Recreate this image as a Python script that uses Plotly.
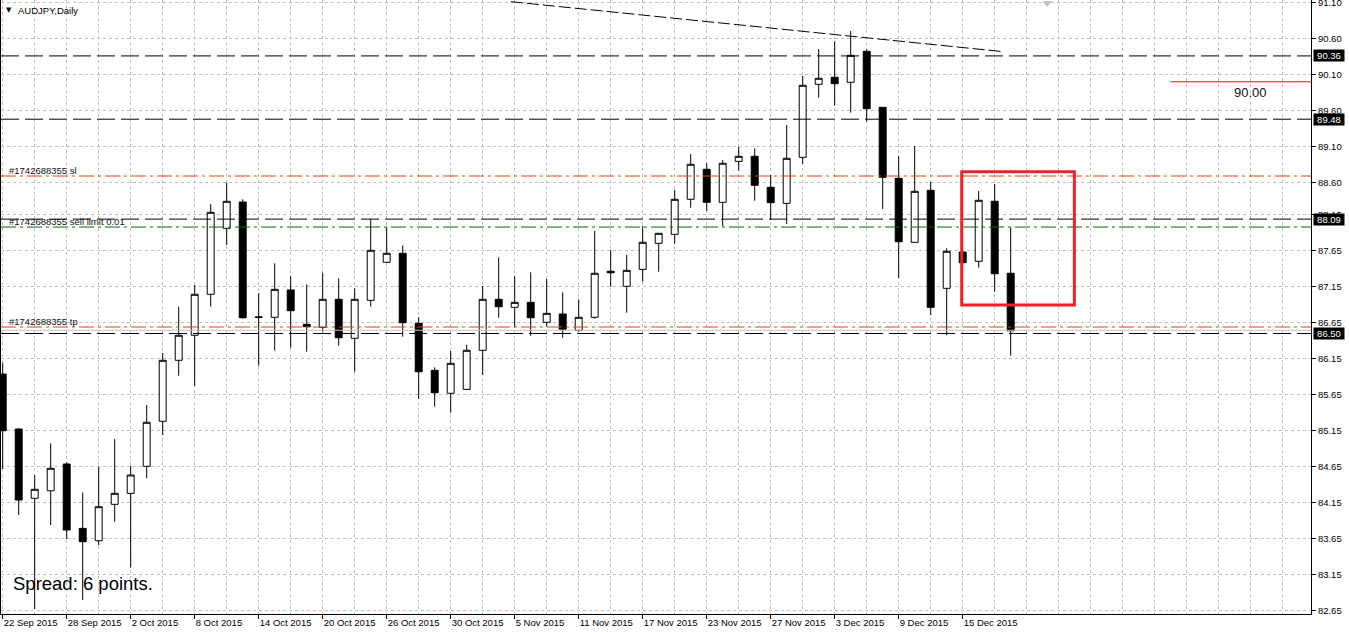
import plotly.graph_objects as go
import pandas as pd

# ---------------- data ----------------
symbol_title = "AUDJPY,Daily"
spread_text = "Spread: 6 points."
dates = pd.bdate_range("2015-09-22", "2015-12-18")  # 64 trading days

opens = [85.936, 85.171, 84.208, 84.313, 84.685, 83.790, 83.618, 84.124, 84.277, 84.653,
         85.279, 86.127, 86.475, 87.045, 87.962, 88.328, 86.722, 86.725, 87.105, 86.627,
         86.586, 86.975, 86.433, 86.961, 87.490, 87.615, 86.641, 85.988, 85.668, 85.723,
         86.266, 86.975, 86.864, 86.933, 86.655, 86.771, 86.544, 86.725, 87.365, 87.156,
         87.392, 87.754, 87.879, 88.366, 88.783, 88.324, 88.894, 88.964, 88.533, 88.310,
         88.950, 89.965, 90.063, 89.993, 90.424, 89.645, 88.658, 87.768, 88.491, 87.128,
         87.633, 87.504, 88.338, 87.337]
highs = [86.093, 85.181, 84.532, 84.973, 84.708, 84.286, 84.647, 85.032, 84.661, 85.505,
         86.228, 86.872, 87.174, 88.300, 88.597, 88.366, 87.059, 87.476, 87.299, 87.184,
         87.345, 87.267, 87.128, 88.088, 87.977, 87.726, 86.725, 86.029, 86.256, 86.340,
         87.160, 87.559, 87.299, 87.351, 87.257, 87.073, 86.975, 87.925, 87.661, 87.591,
         87.995, 87.893, 88.495, 88.996, 88.867, 88.912, 89.097, 89.075, 88.704, 89.399,
         90.081, 90.456, 90.563, 90.706, 90.452, 89.645, 88.968, 89.107, 88.606, 87.684,
         87.633, 88.481, 88.579, 87.976]
lows = [84.615, 83.975, 82.668, 83.836, 83.642, 82.793, 83.558, 83.882, 83.243, 84.486,
        85.088, 85.913, 85.769, 86.872, 87.730, 86.708, 86.052, 86.260, 86.302, 86.246,
        86.525, 86.330, 85.968, 86.872, 87.476, 86.455, 85.589, 85.482, 85.398, 85.714,
        85.922, 86.719, 86.586, 86.469, 86.594, 86.441, 86.525, 86.705, 87.150, 86.789,
        87.220, 87.359, 87.748, 88.249, 88.203, 87.995, 88.764, 88.346, 88.078, 88.022,
        88.857, 89.779, 89.668, 89.570, 89.445, 88.231, 87.271, 87.768, 86.757, 86.475,
        87.484, 87.415, 87.081, 86.191]
closes = [85.148, 84.184, 84.333, 84.625, 83.767, 83.604, 84.091, 84.277, 84.532, 85.265,
          86.127, 86.475, 87.045, 88.185, 88.338, 86.719, 86.729, 87.114, 86.817, 86.594,
          86.975, 86.441, 86.975, 87.657, 87.615, 86.650, 85.968, 85.676, 86.085, 86.266,
          86.975, 86.872, 86.933, 86.719, 86.780, 86.558, 86.725, 87.337, 87.345, 87.378,
          87.768, 87.893, 88.366, 88.853, 88.324, 88.867, 88.964, 88.561, 88.319, 88.936,
          89.951, 90.049, 89.974, 90.368, 89.626, 88.672, 87.776, 88.477, 86.864, 87.643,
          87.484, 88.352, 87.331, 86.538]

price_tick_labels = ["91.10", "90.60", "90.10", "89.60", "89.10", "88.60", "88.15", "87.65",
                     "87.15", "86.65", "86.15", "85.65", "85.15", "84.65", "84.15", "83.65",
                     "83.15", "82.65"]

level_prices = [90.36, 89.48, 88.09, 86.50]          # black dashed horizontal lines
level_labels = ["90.36", "89.48", "88.09", "86.50"]
order_id = "#1742688355"
sl_price = 88.69
sell_limit_price = 87.98
tp_price = 86.59
ask_price = 86.545
alert_price = 90.00
alert_label = "90.00"
alert_start_bar = 73.0
alert_label_bar = 78.0
trend_x = [31.77, 62.54]
trend_y = [91.114, 90.419]
box_x = [59.94, 66.98]
box_y = [86.896, 88.750]
shift_marker_bar = 65.27
shift_marker_price = 91.096

x_range = [-0.106, 81.77]
y_range = [82.599, 91.1375]

# ---------------- figure ----------------
FONT = "Liberation Sans, Arial, sans-serif"
idx = list(range(len(dates)))
label_pos = idx[::4]
label_text = [f"{dates[i].day} {dates[i].strftime('%b %Y')}" for i in label_pos]

fig = go.Figure()
fig.add_trace(go.Candlestick(
    x=idx, open=opens, high=highs, low=lows, close=closes,
    increasing=dict(line=dict(color="black", width=1), fillcolor="white"),
    decreasing=dict(line=dict(color="black", width=1), fillcolor="black"),
    whiskerwidth=0, showlegend=False, hoverinfo="skip",
))
fig.add_trace(go.Scatter(
    x=[shift_marker_bar], y=[shift_marker_price], mode="markers",
    marker=dict(symbol="triangle-down", size=8, color="#c0c0c0"),
    cliponaxis=False, showlegend=False, hoverinfo="skip",
))

shapes = []
for p in level_prices:
    shapes.append(dict(type="line", xref="paper", x0=0, x1=1, yref="y", y0=p, y1=p,
                       line=dict(color="black", width=1, dash="18px,6px")))
shapes.append(dict(type="line", xref="paper", x0=0, x1=1, yref="y", y0=ask_price, y1=ask_price,
                   line=dict(color="#c0c0c0", width=1)))
for p, c in [(sl_price, "#f04000"), (sell_limit_price, "#007000"), (tp_price, "#f04000")]:
    shapes.append(dict(type="line", xref="paper", x0=0, x1=1, yref="y", y0=p, y1=p,
                       line=dict(color=c, width=1, dash="15px,4px,3px,4px")))
shapes.append(dict(type="line", xref="x", x0=alert_start_bar, x1=x_range[1], yref="y",
                   y0=alert_price, y1=alert_price, line=dict(color="#ff0000", width=1)))
shapes.append(dict(type="line", xref="x", x0=trend_x[0], x1=trend_x[1], yref="y",
                   y0=trend_y[0], y1=trend_y[1],
                   line=dict(color="black", width=1, dash="12px,4px")))
shapes.append(dict(type="rect", xref="x", x0=box_x[0], x1=box_x[1], yref="y",
                   y0=box_y[0], y1=box_y[1], line=dict(color="#ee2028", width=3)))

annotations = []
annotations.append(dict(text="▼", xref="paper", yref="paper", x=0.0025, y=1 - 10 / 614,
                        xanchor="left", yanchor="middle", showarrow=False,
                        font=dict(family="DejaVu Sans", size=7, color="black")))
annotations.append(dict(text=symbol_title, xref="paper", yref="paper", x=0.0118, y=1 - 10 / 614,
                        xanchor="left", yanchor="middle", showarrow=False,
                        font=dict(family=FONT, size=9.5, color="black")))
for txt, p in [(f"{order_id} sl", sl_price), (f"{order_id} sell limit 0.01", sell_limit_price),
               (f"{order_id} tp", tp_price)]:
    annotations.append(dict(text=txt, xref="paper", yref="y", x=0.0045, y=p,
                            xanchor="left", yanchor="bottom", yshift=-2, showarrow=False,
                            font=dict(family=FONT, size=9.5, color="#111111")))
for p, t in zip(level_prices, level_labels):
    annotations.append(dict(text=t, xref="paper", yref="y", x=1, y=p, xanchor="left",
                            yanchor="middle", xshift=2, showarrow=False, bgcolor="black",
                            width=30, height=11, borderpad=0,
                            font=dict(family=FONT, size=9.5, color="white")))
annotations.append(dict(text=alert_label, xref="x", yref="y", x=alert_label_bar, y=alert_price,
                        xanchor="center", yanchor="top", yshift=-1, showarrow=False,
                        font=dict(family=FONT, size=13, color="#111111")))
annotations.append(dict(text=spread_text, xref="paper", yref="paper", x=0.0075, y=1 - 583 / 614,
                        xanchor="left", yanchor="middle", showarrow=False,
                        font=dict(family=FONT, size=18.5, color="black")))

grid_style = dict(gridcolor="#c0c0c0", gridwidth=1, griddash="3px,3px")

fig.update_layout(
    width=1349, height=632,
    margin=dict(l=1, r=38, t=0, b=18, autoexpand=False),
    paper_bgcolor="white", plot_bgcolor="white",
    showlegend=False, boxgap=0.38,
    shapes=shapes, annotations=annotations,
    hovermode=False,
    xaxis=dict(
        range=x_range, rangeslider=dict(visible=False), automargin=False,
        tickmode="array", tickvals=label_pos, ticktext=label_text,
        ticks="outside", ticklen=4, tickcolor="black",
        ticklabelposition="outside right",
        tickfont=dict(family=FONT, size=9.5, color="black"),
        showline=True, linecolor="black", linewidth=1, zeroline=False,
        showgrid=True, **grid_style,
        minor=dict(tick0=0, dtick=2, showgrid=True, ticks="", **grid_style),
    ),
    yaxis=dict(
        range=y_range, side="right", automargin=False,
        tickmode="array", tickvals=[float(v) for v in price_tick_labels],
        ticktext=price_tick_labels, ticklabeloverflow="allow",
        ticks="outside", ticklen=4, tickcolor="black",
        tickfont=dict(family=FONT, size=9.5, color="black"),
        showline=True, mirror=True, linecolor="black", linewidth=1, zeroline=False,
        showgrid=True, **grid_style,
    ),
)

fig.write_html("out.html")
